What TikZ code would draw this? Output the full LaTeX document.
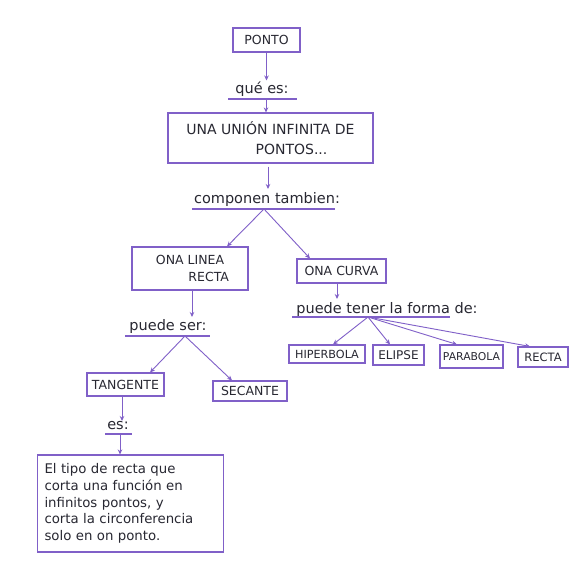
\documentclass[tikz,border=0pt]{standalone}
\usepackage{fontspec}
\setmainfont{DejaVu Sans}
\usetikzlibrary{arrows.meta}
\definecolor{pen}{RGB}{128,96,200}
\definecolor{ink}{RGB}{40,40,50}
\newcommand{\fs}[1]{\fontsize{#1}{#1}\selectfont}
\begin{document}
\begin{tikzpicture}[x=1pt,y=-1pt,
 box/.style={draw=pen, line width=1.1pt, text=ink, inner sep=1pt, align=center, font=\fs{11.5}},
 lbl/.style={text=ink, inner sep=1pt, font=\fs{14.5}},
 uline/.style={draw=pen, line width=1.1pt},
 conn/.style={draw=pen, line width=0.9pt},
 arr/.style={conn, -{Stealth[length=5pt,width=4.5pt]}}]
\fill[white] (0,0) rectangle (581,588);
\useasboundingbox (0,0) rectangle (581,588);

% boxes
\node[box, minimum width=67, minimum height=24, font=\fs{12.5}] (ponto) at (266.5,40) {PONTO};
\node[box, minimum width=205, minimum height=50, font=\fontsize{14}{20}\selectfont] (union) at (270.5,138) {UNA UNIÓN INFINITA DE\\ \hspace*{3em}PONTOS...};
\node[box, minimum width=116, minimum height=43, font=\fontsize{12.5}{17}\selectfont] (linea) at (190,268.5) {ONA LINEA\\ \hspace*{3em}RECTA};
\node[box, minimum width=89, minimum height=24, font=\fs{12.5}] (curva) at (341.5,271) {ONA CURVA};
\node[box, minimum width=77, minimum height=23, font=\fs{12.5}] (tang) at (125.5,384.5) {TANGENTE};
\node[box, minimum width=74, minimum height=20, font=\fs{12.5}] (sec) at (250,391) {SECANTE};
\node[box, minimum width=76, minimum height=18, font=\fs{11.2}] (hip) at (327,354) {HIPERBOLA};
\node[box, minimum width=51, minimum height=20, font=\fs{12}] (eli) at (398.5,355) {ELIPSE};
\node[box, minimum width=63, minimum height=23, font=\fs{10.8}] (para) at (471.5,356.5) {PARABOLA};
\node[box, minimum width=50, minimum height=20, font=\fs{11.5}] (rec) at (543,357) {RECTA};
\node[box, minimum width=186, minimum height=97, text width=172, align=left, font=\fontsize{13.3}{16.8}\selectfont] (def) at (130.5,503.5)
 {El tipo de recta que\\ corta una función en\\ infinitos pontos, y\\ corta la circonferencia\\ solo en on ponto.};

% labels with underlines
\node[lbl] (que) at (262,89) {qué es:};
\draw[uline] (228,99) -- (297,99);
\coordinate (queU) at (266,99);

\node[lbl] (comp) at (267,199) {componen tambien:};
\draw[uline] (192,209) -- (335,209);
\coordinate (compU) at (264,209);
\coordinate (compT) at (268,189);

\node[lbl] (ser) at (168,326) {puede ser:};
\draw[uline] (125,336) -- (210,336);
\coordinate (serU) at (185,336);
\coordinate (serT) at (192,317);

\node[lbl] (forma) at (387,309) {puede tener la forma de:};
\draw[uline] (292,317) -- (450,317);
\coordinate (formaU) at (368,317);
\coordinate (formaT) at (337,299);

\node[lbl] (es) at (118,426) {es:};
\draw[uline] (105,434) -- (132,434);
\coordinate (esU) at (120,434);
\coordinate (esT) at (122,421);

% connectors
\draw[arr] (ponto.south) -- (ponto.south |- que.north);
\draw[arr] (queU) -- (queU |- union.north);
\draw[arr] ([xshift=-2.5pt,yshift=-3pt]union.south) -- (compT);
\draw[arr] (compU) -- ([xshift=37pt]linea.north);
\draw[arr] (compU) -- ([xshift=-31.5pt]curva.north);
\draw[arr] ([xshift=2pt]linea.south) -- (serT);
\draw[arr] ([xshift=-4.5pt]curva.south) -- (formaT);
\draw[arr] (serU) -- ([xshift=24.5pt]tang.north);
\draw[arr] (serU) -- ([xshift=-18pt]sec.north);
\draw[arr] (formaU) -- ([xshift=6pt]hip.north);
\draw[arr] (formaU) -- ([xshift=-8.5pt]eli.north);
\draw[arr] (formaU) -- ([xshift=-14.5pt]para.north);
\draw[arr] (formaU) -- ([xshift=-13pt]rec.north);
\draw[arr] ([xshift=-3.5pt]tang.south) -- (esT);
\draw[arr] (esU) -- (esU |- def.north);
\end{tikzpicture}
\end{document}
